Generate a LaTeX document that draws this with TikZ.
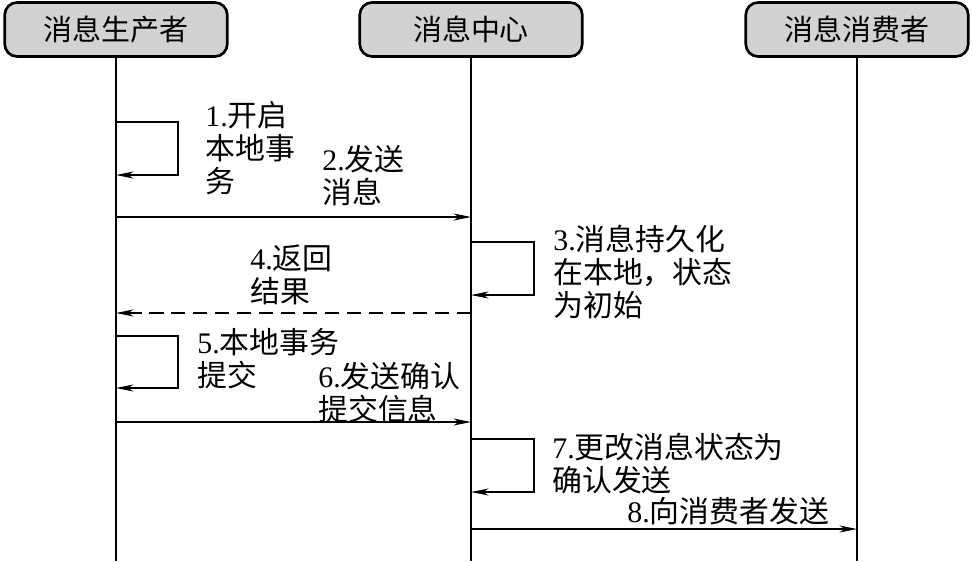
\documentclass[tikz,border=0pt]{standalone}
\usepackage{fontspec}
\setmainfont{Liberation Serif}
\newfontfamily\cjk{Noto Sans CJK SC}
\usepackage{tikz}
\usetikzlibrary{arrows.meta, positioning}

\tikzset{
  actor/.style={draw, line width=1.5pt, rounded corners=7pt, fill=gray!35,
    minimum width=4.45cm, minimum height=1.08cm,
    font=\cjk\fontsize{16.5}{19}\selectfont},
  life/.style={line width=0.7pt},
  msg/.style={-{Stealth[length=10pt,width=4pt,inset=3pt]}, line width=0.7pt},
  reply/.style={msg, dash pattern=on 8pt off 4.5pt},
  note/.style={anchor=north west, align=left, inner sep=0pt,
    font=\cjk\fontsize{17}{18.8}\selectfont}
}
\newcommand{\nr}[1]{{\rmfamily #1}}

\begin{document}
\begin{tikzpicture}[x=0.02cm, y=-0.02cm]
  \useasboundingbox (0,0) rectangle (972,561);

  % participants
  \node[actor] (prod) at (116,29.5) {消息生产者};
  \node[actor] (hub)  at (471,29.5) {消息中心};
  \node[actor] (cons) at (857,29.5) {消息消费者};

  % lifelines
  \coordinate (prodEnd) at (116,561);
  \coordinate (hubEnd)  at (471,561);
  \coordinate (consEnd) at (857,561);
  \draw[life] (prod) -- (prodEnd);
  \draw[life] (hub)  -- (hubEnd);
  \draw[life] (cons) -- (consEnd);

  % points on the lifelines
  \coordinate (p1a) at (116,122);  \coordinate (p1b) at (116,175);
  \coordinate (p2)  at (116,217);  \coordinate (h2)  at (471,217);
  \coordinate (h3a) at (471,242);  \coordinate (h3b) at (471,295);
  \coordinate (p4)  at (116,313);  \coordinate (h4)  at (471,313);
  \coordinate (p5a) at (116,336);  \coordinate (p5b) at (116,388);
  \coordinate (p6)  at (116,422);  \coordinate (h6)  at (471,422);
  \coordinate (h7a) at (471,439);  \coordinate (h7b) at (471,492);
  \coordinate (h8)  at (471,529);  \coordinate (c8)  at (857,529);

  % messages
  \draw[msg] (p1a) -- ++(62,0) |- (p1b);
  \draw[msg] (p2) -- (h2);
  \draw[msg] (h3a) -- ++(63,0) |- (h3b);
  \draw[reply] (h4) -- (p4);
  \draw[msg] (p5a) -- ++(62,0) |- (p5b);
  \draw[msg] (p6) -- (h6);
  \draw[msg] (h7a) -- ++(63,0) |- (h7b);
  \draw[msg] (h8) -- (c8);

  % labels
  \node[note] (n1) at (205,101) {\nr{1.}开启\\本地事\\务};
  \node[note] (n2) at (322,145) {\nr{2.}发送\\消息};
  \node[note] (n3) at (553,225) {\nr{3.}消息持久化\\在本地，状态\\为初始};
  \node[note] (n4) at (250,245) {\nr{4.}返回\\结果};
  \node[note] (n5) at (197,328) {\nr{5.}本地事务\\提交};
  \node[note] (n6) at (318,362) {\nr{6.}发送确认\\提交信息};
  \node[note] (n7) at (552,433) {\nr{7.}更改消息状态为\\确认发送};
  \node[note] (n8) at (627,497) {\nr{8.}向消费者发送};
\end{tikzpicture}
\end{document}
